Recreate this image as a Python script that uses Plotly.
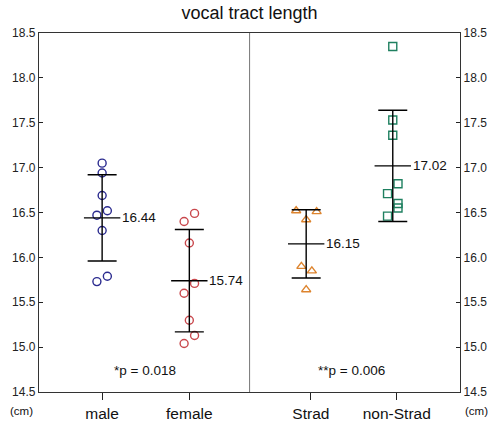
import plotly.graph_objects as go

# groups and measured values (cm)
groups = ['male', 'female', 'Strad', 'non-Strad']
group_x = [1.0, 2.0, 3.34, 4.333]
tick_x = [1.0, 2.0, 3.394, 4.379]

male = [17.05, 16.94, 16.69, 16.52, 16.47, 16.30, 15.79, 15.73]
female = [16.49, 16.40, 16.16, 15.71, 15.60, 15.30, 15.13, 15.04]
strad = [16.52, 16.51, 16.42, 15.90, 15.85, 15.64]
non_strad = [18.35, 17.53, 17.36, 16.82, 16.71, 16.60, 16.55, 16.46]

# horizontal jitter of the points around the group centre
male_jit = [0, 0, 0, 0.06, -0.06, 0, 0.06, -0.06]
female_jit = [0.06, -0.06, 0, 0.06, -0.06, 0, 0.06, -0.06]
strad_jit = [-0.115, 0.12, 0, -0.055, 0.065, 0]
non_strad_jit = [0, 0, 0, 0.06, -0.06, 0.06, 0.06, -0.06]

means = [16.44, 15.74, 16.15, 17.02]
sds = [0.48, 0.57, 0.38, 0.62]

p_labels = ['*p = 0.018', '**p = 0.006']
p_x = [1.496, 3.864]
p_y = [14.74, 14.74]

colors = ['#2b2b8f', '#c9474c', '#dd842e', '#1f8060']
symbols = ['circle-open', 'circle-open', 'triangle-up-open', 'square-open']
values = [male, female, strad, non_strad]
jitters = [male_jit, female_jit, strad_jit, non_strad_jit]

FONT = 'Liberation Sans, Arial, sans-serif'

fig = go.Figure()

for i, name in enumerate(groups):
    xs = [group_x[i] + j for j in jitters[i]]
    fig.add_trace(go.Scatter(
        x=xs, y=values[i], mode='markers', name=name,
        marker=dict(symbol=symbols[i], size=8, color=colors[i],
                    line=dict(width=1.4, color=colors[i])),
        showlegend=False, cliponaxis=False
    ))

# mean +/- SD bars (line-ew is drawn 1.4x the marker size)
fig.add_trace(go.Scatter(
    x=group_x, y=means, mode='markers',
    marker=dict(symbol='line-ew', size=26, line=dict(width=1.4, color='black')),
    error_y=dict(type='data', array=sds, visible=True, color='black',
                 thickness=1.4, width=14.5),
    showlegend=False
))

# invisible trace so the right axis is drawn
fig.add_trace(go.Scatter(x=[group_x[0]], y=[means[0]], yaxis='y2',
                         mode='markers', marker=dict(opacity=0),
                         showlegend=False, hoverinfo='skip'))

for i in range(len(groups)):
    fig.add_annotation(x=group_x[i], y=means[i], text=f'{means[i]:.2f}',
                       showarrow=False, xanchor='left', xshift=18,
                       font=dict(size=13.5, color='#111'))

for t, x, y in zip(p_labels, p_x, p_y):
    fig.add_annotation(x=x, y=y, text=t, showarrow=False,
                       font=dict(size=13.5, color='#111'))

for x in [-0.042, 1.04]:
    fig.add_annotation(x=x, y=-0.052, xref='paper', yref='paper', text='(cm)',
                       showarrow=False, xanchor='center', yanchor='middle',
                       font=dict(size=11.5, color='#111'))

fig.add_shape(type='line', x0=2.691, x1=2.691, y0=0, y1=1, xref='x', yref='paper',
              line=dict(color='#777', width=1))

yticks = [14.5, 15.0, 15.5, 16.0, 16.5, 17.0, 17.5, 18.0, 18.5]
yax = dict(range=[14.5, 18.5], tickvals=yticks, ticktext=[f'{v:.1f}' for v in yticks],
           ticks='inside', ticklen=4, tickcolor='#222', showline=True,
           linecolor='#333', linewidth=1.3, showgrid=False, zeroline=False,
           tickfont=dict(size=12, color='#222'))

fig.update_layout(
    width=500, height=433,
    margin=dict(l=39, r=40, t=33, b=41),
    paper_bgcolor='white', plot_bgcolor='white',
    font=dict(family=FONT, color='#111'),
    title=dict(text='vocal tract length', x=0.5, xref='paper', y=0.97,
               yanchor='middle', font=dict(size=18, color='#111')),
    xaxis=dict(range=[0.276, 5.104], tickvals=tick_x, ticktext=groups,
               ticks='outside', ticklen=7, tickcolor='#222', showline=True,
               mirror=True, linecolor='#333', linewidth=1.3, showgrid=False,
               zeroline=False, tickfont=dict(size=15.5, color='#111')),
    yaxis=dict(side='left', **yax),
    yaxis2=dict(side='right', overlaying='y', **yax),
)

# drop the default page margin so the figure sits at the window corner
fig.write_html('out.html', config={'displayModeBar': False},
               post_script="document.body.style.margin='0px';")
